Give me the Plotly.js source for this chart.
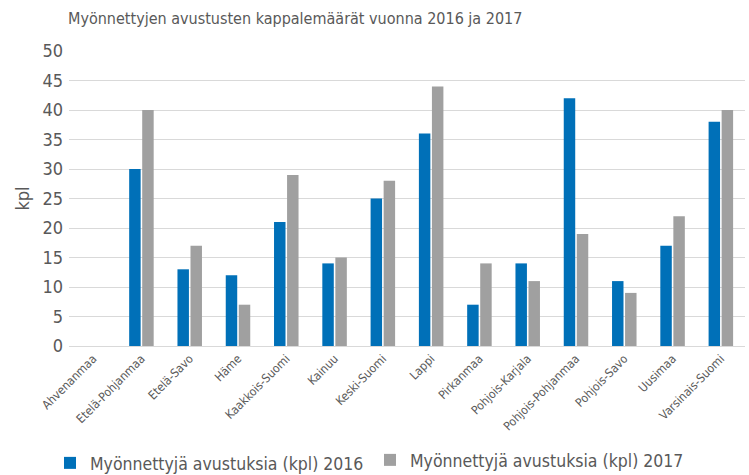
<!DOCTYPE html>
<html><head><meta charset="utf-8">
<script src="https://cdn.plot.ly/plotly-3.0.1.min.js"></script>
<style>body{margin:0;background:#fff}#c{width:749px;height:475px}</style>
</head><body><div id="c"></div>
<script>
const categories = ["Ahvenanmaa","Etelä-Pohjanmaa","Etelä-Savo","Häme","Kaakkois-Suomi","Kainuu","Keski-Suomi","Lappi","Pirkanmaa","Pohjois-Karjala","Pohjois-Pohjanmaa","Pohjois-Savo","Uusimaa","Varsinais-Suomi"];
const values2016 = [0,30,13,12,21,14,25,36,7,14,42,11,17,38];
const values2017 = [0,40,17,7,29,15,28,44,14,11,19,9,22,40];
const seriesNames = ["Myönnettyjä avustuksia (kpl) 2016","Myönnettyjä avustuksia (kpl) 2017"];
const yTicks = [0,5,10,15,20,25,30,35,40,45,50];

const F = '"Liberation Sans Narrow","DejaVu Sans Condensed","Roboto Condensed",sans-serif';
const W = 749, H = 475;
const data = [
  {type:'bar', x:categories, y:values2016, name:seriesNames[0], marker:{color:'#0070B8'}, legend:'legend'},
  {type:'bar', x:categories, y:values2017, name:seriesNames[1], marker:{color:'#A0A0A0'}, legend:'legend2'}
];
const legBase = {orientation:'h', xref:'container', xanchor:'left', yref:'container', yanchor:'middle', font:{size:17.5, color:'#595959', family:F}, bgcolor:'rgba(0,0,0,0)'};
const layout = {
  width:W, height:H,
  margin:{l:69,r:4,t:51,b:129},
  paper_bgcolor:'#fff', plot_bgcolor:'#fff',
  font:{family:F, color:'#595959'},
  title:{text:'Myönnettyjen avustusten kappalemäärät vuonna 2016 ja 2017', x:68/W, xref:'container', xanchor:'left', y:1-18/H, yref:'container', yanchor:'middle', font:{size:16, color:'#595959', family:F}},
  barmode:'group', bargap:0.46, bargroupgap:0.12,
  xaxis:{tickangle:-45, tickfont:{size:12, color:'#595959', family:F}, showline:true, linecolor:'#D9D9D9', linewidth:1, ticks:'', automargin:false},
  yaxis:{range:[0,50], tickvals:yTicks, showgrid:true, gridcolor:'#D9D9D9', gridwidth:1, zeroline:false, tickfont:{size:18, color:'#595959', family:F}, ticks:'', ticklen:0, ticklabelstandoff:5, automargin:false,
    title:{text:'kpl', font:{size:18, color:'#595959', family:F}, standoff:8}},
  showlegend:true,
  legend:Object.assign({}, legBase, {x:50/W, y:1-463/H}),
  legend2:Object.assign({}, legBase, {x:370/W, y:1-460/H})
};
Plotly.newPlot('c', data, layout, {displayModeBar:false, staticPlot:true});
</script></body></html>
